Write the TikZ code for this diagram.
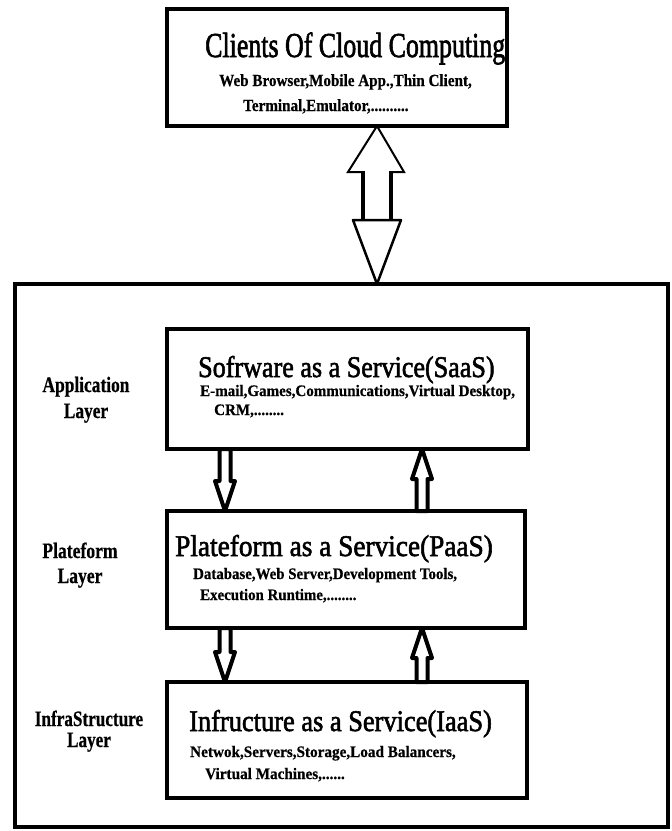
\documentclass[tikz,border=0pt]{standalone}
\usepackage{fontspec}
\setmainfont{Liberation Serif}
\newfontfamily\ttlfont[FakeBold=2]{Liberation Serif}
\newfontfamily\subfont[FakeBold=0.6]{Liberation Serif}
\usetikzlibrary{calc}
\newcommand{\sx}[2]{\scalebox{#1}[1]{#2}}
\newcommand{\blockarrow}[2]{%
  \draw[blockarr] let \p1=(#1), \p2=(#2), \n1={(\y2-\y1)/abs(\y1-\y2)*30} in
    (\x1,\y1) -- ({\x1+10pt},{\y1+\n1*1pt}) -- ({\x1+5.5pt},{\y1+\n1*1pt}) -- ({\x1+5.5pt},\y2)
    -- ({\x1-5.5pt},\y2) -- ({\x1-5.5pt},{\y1+\n1*1pt}) -- ({\x1-10pt},{\y1+\n1*1pt}) -- cycle;}
\begin{document}
\begin{tikzpicture}[x=1pt,y=-1pt,
  box/.style={draw, line width=4pt, inner sep=0pt, outer sep=0pt},
  ttl/.style={anchor=base west, inner sep=0pt, font=\ttlfont\fontsize{30}{36}\selectfont},
  sub/.style={anchor=base west, inner sep=0pt, font=\subfont\fontsize{16}{19}\selectfont\bfseries},
  lbl/.style={anchor=base, inner sep=0pt, align=center, font=\subfont\fontsize{22}{26}\selectfont\bfseries},
  blockarr/.style={draw, line width=4pt, line join=round}]
\useasboundingbox (0,0) rectangle (672,831);
\fill[white] (0,0) rectangle (672,831);

% boxes
\node[box, minimum width=340pt, minimum height=117pt] (clients) at (337,67.5) {};
\node[box, line width=3.5pt, minimum width=653pt, minimum height=543pt] (cloud) at (341.5,555.5) {};
\node[box, minimum width=361pt, minimum height=120pt] (saas) at (347.5,389) {};
\node[box, minimum width=358pt, minimum height=117pt] (paas) at (346,569.5) {};
\node[box, minimum width=360pt, minimum height=116pt] (iaas) at (347,740) {};

% top box texts
\node[ttl, font=\ttlfont\fontsize{35}{40}\selectfont] (clientsT) at (205,57) {\sx{0.74}{Clients Of Cloud Computing}};
\node[sub, font=\subfont\fontsize{17}{20}\selectfont\bfseries] (clients1) at (219,86) {\sx{0.89}{Web Browser,Mobile App.,Thin Client,}};
\node[sub, font=\subfont\fontsize{17}{20}\selectfont\bfseries] (clients2) at (243,111) {\sx{0.89}{Terminal,Emulator,..........}};

% SaaS
\node[ttl] (saasT) at (198,377) {\sx{0.87}{Sofrware as a Service(SaaS)}};
\node[sub] (saas1) at (200,396) {\sx{0.94}{E-mail,Games,Communications,Virtual Desktop,}};
\node[sub] (saas2) at (214,415) {\sx{0.94}{CRM,........}};

% PaaS
\node[ttl] (paasT) at (175,556) {\sx{0.91}{Plateform as a Service(PaaS)}};
\node[sub] (paas1) at (193,579) {\sx{0.93}{Database,Web Server,Development Tools,}};
\node[sub] (paas2) at (200,600) {\sx{0.93}{Execution Runtime,........}};

% IaaS
\node[ttl] (iaasT) at (189,731) {\sx{0.88}{Infructure as a Service(IaaS)}};
\node[sub] (iaas1) at (190,757) {\sx{0.95}{Netwok,Servers,Storage,Load Balancers,}};
\node[sub] (iaas2) at (205,779) {\sx{0.95}{Virtual Machines,......}};

% layer labels (anchor = baseline of last line)
\node[lbl] (appL) at (86,418) {\sx{0.79}{Application}\\\sx{0.79}{Layer}};
\node[lbl, font=\subfont\fontsize{22}{25}\selectfont\bfseries] (platL) at (80,583) {\sx{0.8}{Plateform}\\\sx{0.8}{Layer}};
\node[lbl, font=\subfont\fontsize{22}{21}\selectfont\bfseries] (infL) at (89,747) {\sx{0.78}{InfraStructure}\\\sx{0.78}{Layer}};

% big double arrow between clients and cloud
\coordinate (bx) at (377,0);
\coordinate (upTip) at (clients.south -| bx);
\coordinate (downTip) at (cloud.north -| bx);
\draw[line width=2pt, line join=miter] ($(upTip)+(-14,46)$) -- ($(upTip)+(-29,46)$) -- (upTip)
  -- ($(upTip)+(27,46)$) -- ($(upTip)+(14,46)$);
\draw[line width=4.5pt] ($(upTip)+(-14,45)$) -- ($(upTip)+(-14,95)$)
  ($(upTip)+(14,45)$) -- ($(upTip)+(14,95)$);
\draw[line width=2.5pt, line join=round] ($(downTip)+(-24,-64)$) -- ($(downTip)+(24,-64)$) -- (downTip) -- cycle;

% small arrows between layers
\coordinate (lx) at (225,0);
\coordinate (rx) at (422,0);
\blockarrow{paas.north -| lx}{saas.south -| lx}
\blockarrow{saas.south -| rx}{paas.north -| rx}
\blockarrow{iaas.north -| lx}{paas.south -| lx}
\blockarrow{paas.south -| rx}{iaas.north -| rx}
\end{tikzpicture}
\end{document}
